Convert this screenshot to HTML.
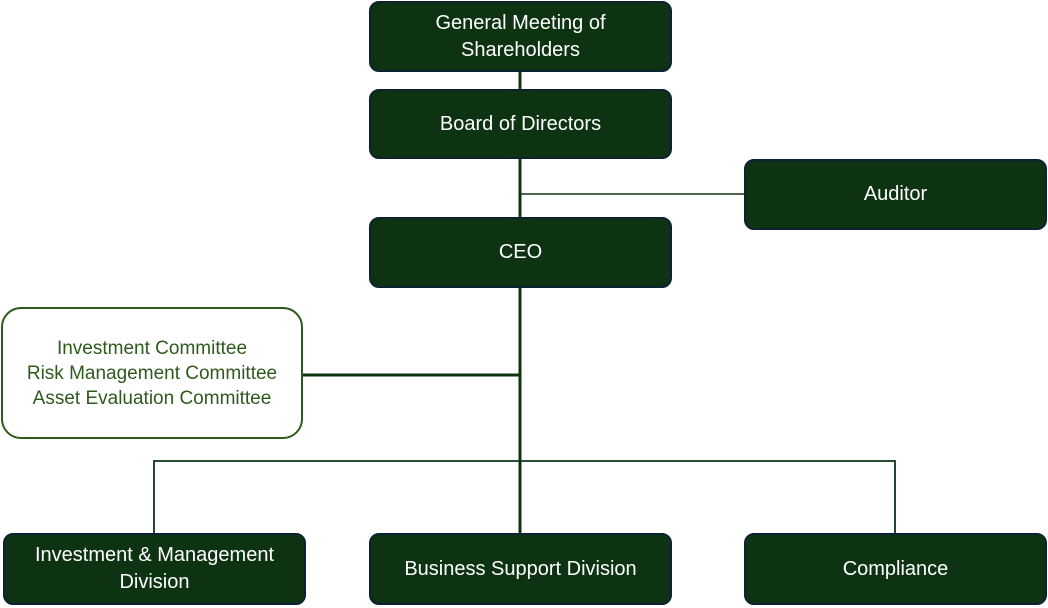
<!DOCTYPE html>
<html><head><meta charset="utf-8"><style>
body{margin:0;width:1048px;height:608px;background:#fff;position:relative;overflow:hidden;font-family:"Liberation Sans",sans-serif;}
.b{position:absolute;box-sizing:border-box;background:#0e3313;border:2px solid #0b2233;border-radius:10px;color:#fff;font-size:20px;display:flex;align-items:center;justify-content:center;text-align:center;line-height:27px;}
.c{position:absolute;box-sizing:border-box;background:#fff;border:2.5px solid #2e5a1c;border-radius:20px;color:#2e5a1c;font-size:19px;display:flex;align-items:center;justify-content:center;text-align:center;line-height:25px;}
svg{position:absolute;left:0;top:0;}
</style></head><body>
<svg width="1048" height="608">
<line x1="520" y1="70" x2="520" y2="534" stroke="#0e3313" stroke-width="3"/>
<line x1="520" y1="194" x2="745" y2="194" stroke="#0e3313" stroke-width="1.6"/>
<line x1="301" y1="375" x2="520" y2="375" stroke="#0e3313" stroke-width="3"/>
<polyline points="154,534 154,461 895,461 895,534" fill="none" stroke="#0e3313" stroke-width="1.8"/>
</svg>
<div class="b" style="left:369px;top:1px;width:303px;height:71px;">General Meeting of<br>Shareholders</div>
<div class="b" style="left:369px;top:89px;width:303px;height:70px;">Board of Directors</div>
<div class="b" style="left:744px;top:159px;width:303px;height:71px;">Auditor</div>
<div class="b" style="left:369px;top:217px;width:303px;height:71px;">CEO</div>
<div class="c" style="left:1px;top:307px;width:302px;height:132px;">Investment Committee<br>Risk Management Committee<br>Asset Evaluation Committee</div>
<div class="b" style="left:3px;top:533px;width:303px;height:72px;">Investment &amp; Management<br>Division</div>
<div class="b" style="left:369px;top:533px;width:303px;height:72px;">Business Support Division</div>
<div class="b" style="left:744px;top:533px;width:303px;height:72px;">Compliance</div>
</body></html>
